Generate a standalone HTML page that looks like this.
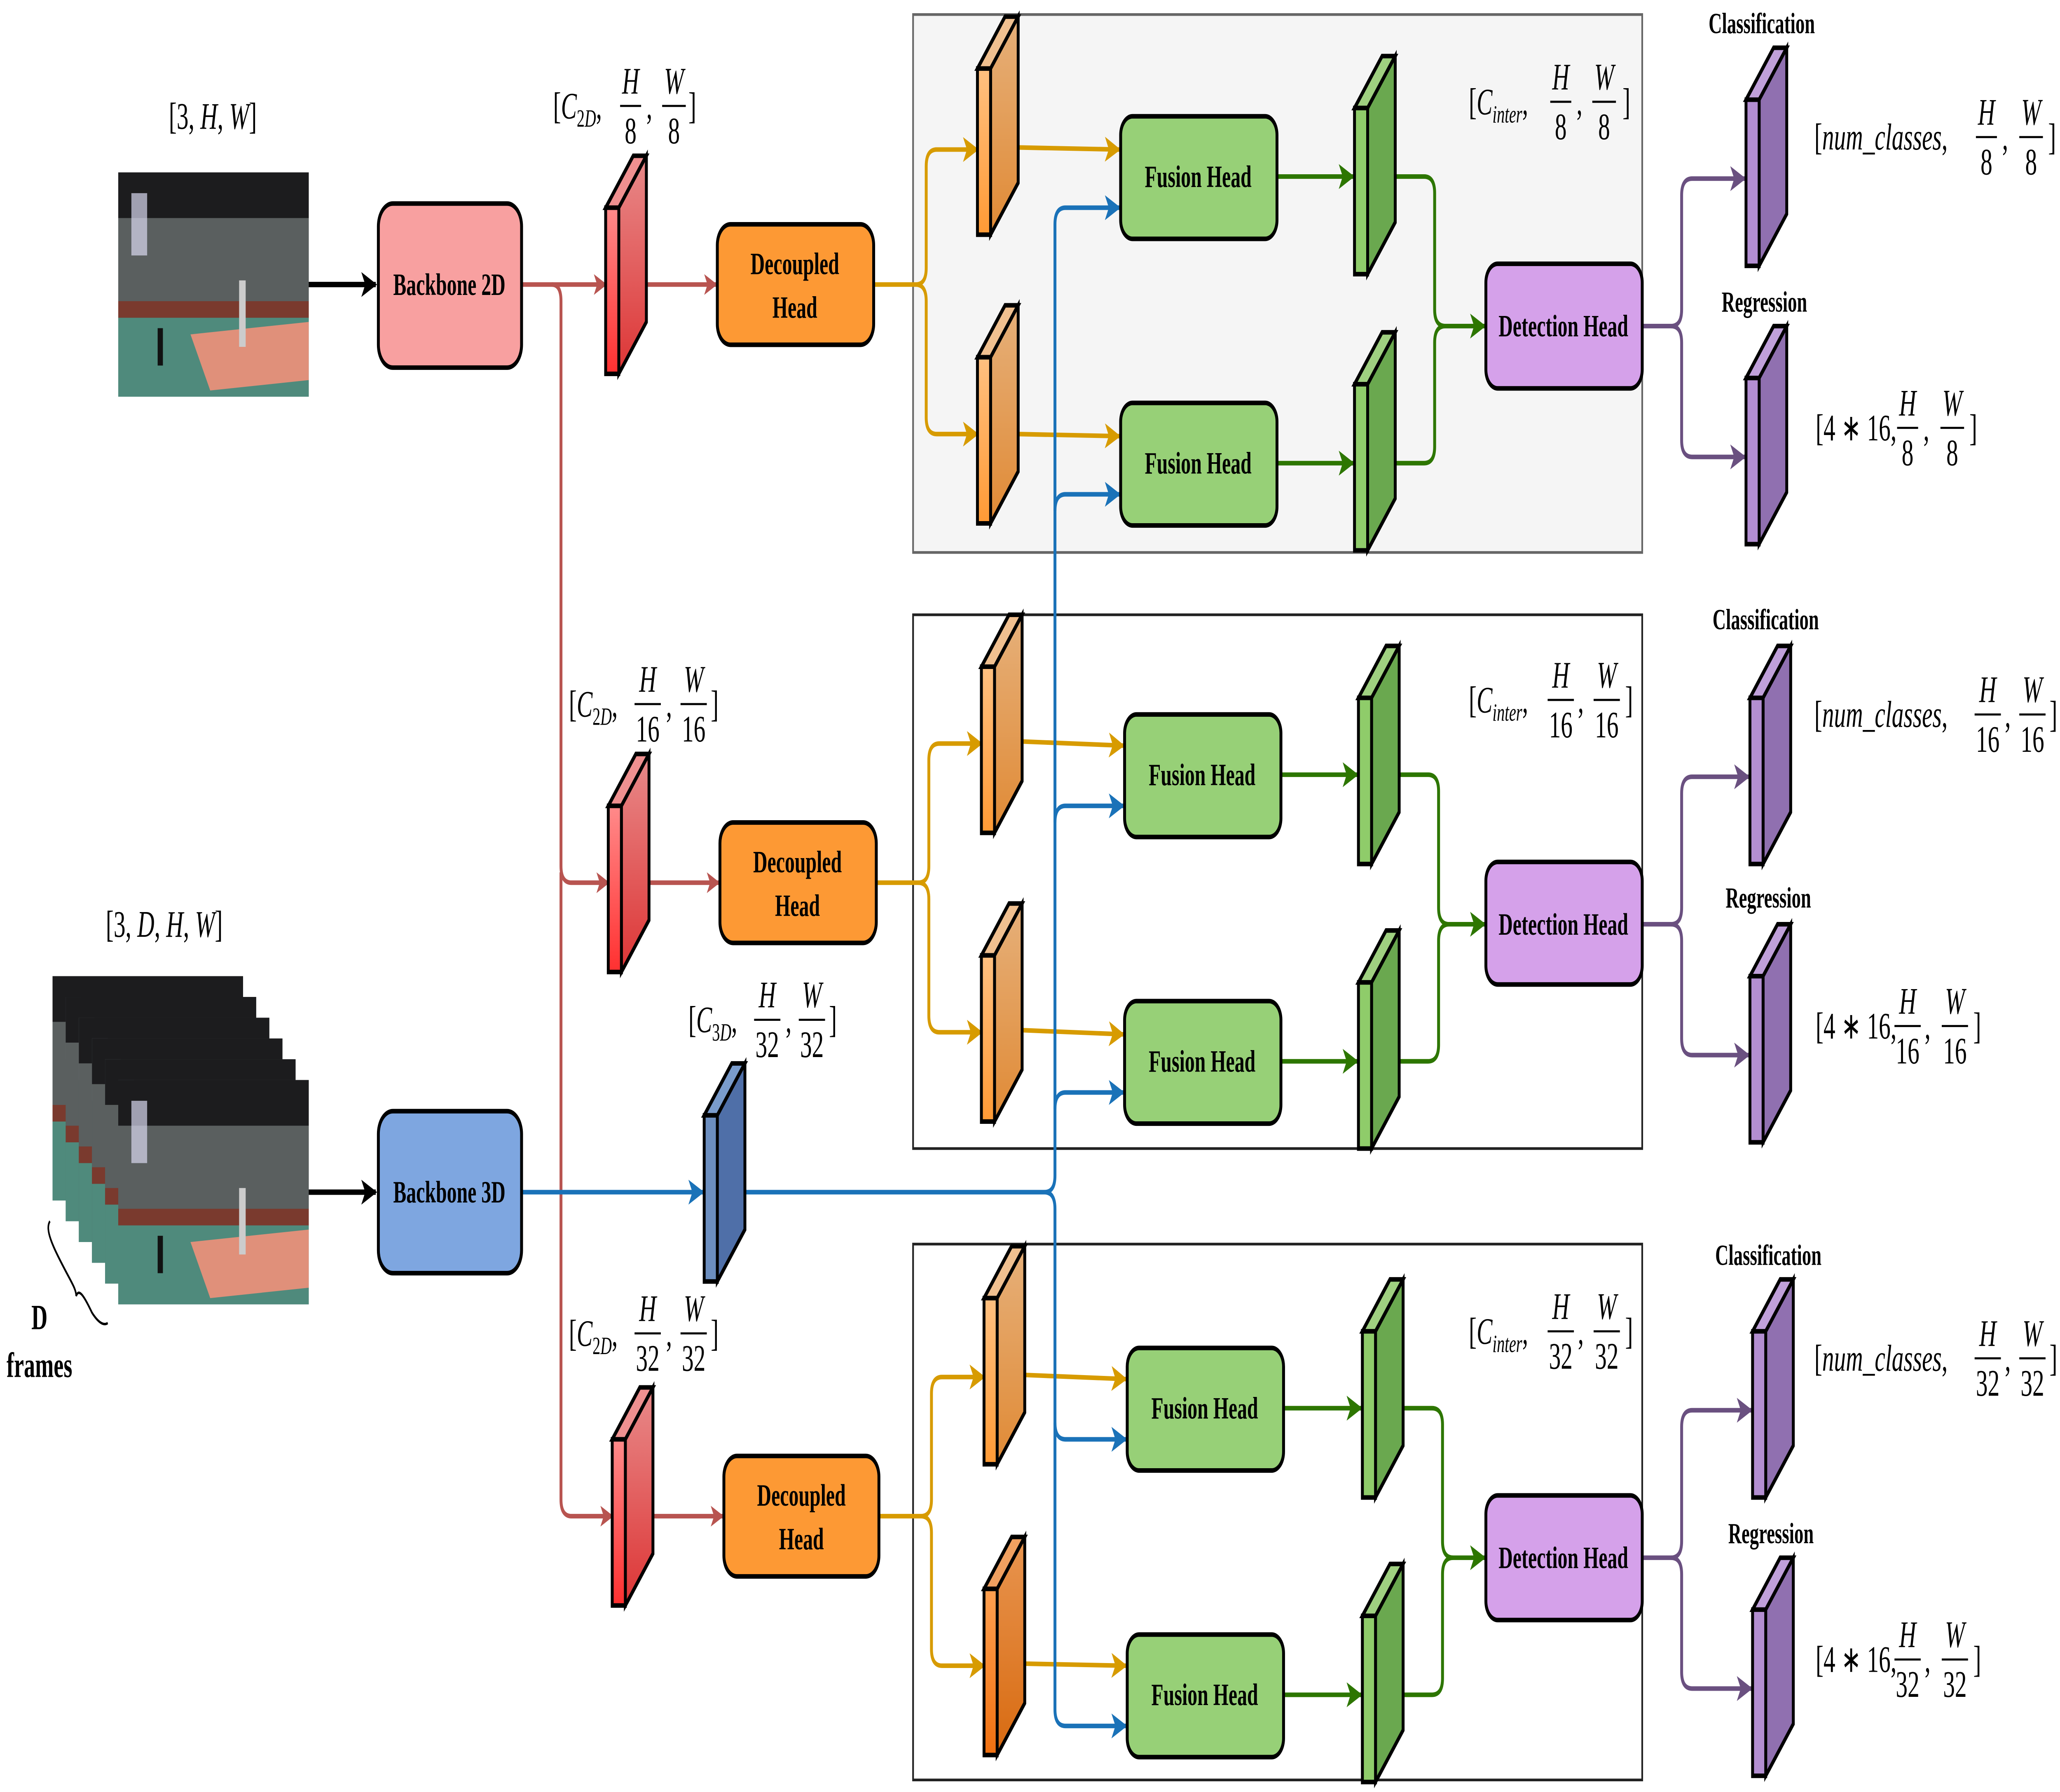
<!DOCTYPE html>
<html><head><meta charset="utf-8"><style>html,body{margin:0;padding:0;background:#fff;width:100%;height:100%;overflow:hidden}svg{display:block;width:100vw;height:100vh}</style></head><body>
<svg xmlns="http://www.w3.org/2000/svg" viewBox="0 0 1568 862.8" preserveAspectRatio="none" font-family="'Liberation Serif', serif">
<defs>
<linearGradient id="rf" x1="0" y1="0" x2="0" y2="1"><stop offset="0" stop-color="#ff8a8a"/><stop offset="1" stop-color="#ff3030"/></linearGradient>
<linearGradient id="rs" x1="0" y1="0" x2="0" y2="1"><stop offset="0" stop-color="#e88a8a"/><stop offset="1" stop-color="#dd3535"/></linearGradient>
<linearGradient id="of" x1="0" y1="0" x2="0" y2="1"><stop offset="0" stop-color="#ffc080"/><stop offset="1" stop-color="#ff9a35"/></linearGradient>
<linearGradient id="os" x1="0" y1="0" x2="0" y2="1"><stop offset="0" stop-color="#e6b07a"/><stop offset="1" stop-color="#e08a35"/></linearGradient>
<linearGradient id="df" x1="0" y1="0" x2="0" y2="1"><stop offset="0" stop-color="#ffa050"/><stop offset="1" stop-color="#f07010"/></linearGradient>
<linearGradient id="ds" x1="0" y1="0" x2="0" y2="1"><stop offset="0" stop-color="#e89550"/><stop offset="1" stop-color="#d86a10"/></linearGradient>
<symbol id="cr" overflow="visible"><g stroke="#000" stroke-width="2.2" stroke-linejoin="miter"><polygon points="0,25 21,0 31,0 10,25" fill="#ef9090"/><polygon points="10,25 31,0 31,80 10,105" fill="url(#rs)"/><rect x="0" y="25" width="10" height="80" fill="url(#rf)"/></g></symbol>
<symbol id="co" overflow="visible"><g stroke="#000" stroke-width="2.2"><polygon points="0,25 21,0 31,0 10,25" fill="#f0c090"/><polygon points="10,25 31,0 31,80 10,105" fill="url(#os)"/><rect x="0" y="25" width="10" height="80" fill="url(#of)"/></g></symbol>
<symbol id="cd" overflow="visible"><g stroke="#000" stroke-width="2.2"><polygon points="0,25 21,0 31,0 10,25" fill="#f0a060"/><polygon points="10,25 31,0 31,80 10,105" fill="url(#ds)"/><rect x="0" y="25" width="10" height="80" fill="url(#df)"/></g></symbol>
<symbol id="cg" overflow="visible"><g stroke="#000" stroke-width="2.2"><polygon points="0,25 21,0 31,0 10,25" fill="#9fd080"/><polygon points="10,25 31,0 31,80 10,105" fill="#6aa84f"/><rect x="0" y="25" width="10" height="80" fill="#8fcc6a"/></g></symbol>
<symbol id="cp" overflow="visible"><g stroke="#000" stroke-width="2.2"><polygon points="0,25 21,0 31,0 10,25" fill="#c0a0da"/><polygon points="10,25 31,0 31,80 10,105" fill="#9070b0"/><rect x="0" y="25" width="10" height="80" fill="#b38ed1"/></g></symbol>
<symbol id="cb" overflow="visible"><g stroke="#000" stroke-width="2.2"><polygon points="0,25 21,0 31,0 10,25" fill="#7a9ccc"/><polygon points="10,25 31,0 31,80 10,105" fill="#4f6fa8"/><rect x="0" y="25" width="10" height="80" fill="#6c8ebf"/></g></symbol>
<symbol id="ph" overflow="visible">
<rect x="0" y="0" width="145" height="108" fill="#4e5a58"/>
<rect x="0" y="0" width="145" height="22" fill="#1c1c1e"/>
<rect x="0" y="22" width="145" height="40" fill="#5a5f5f"/>
<rect x="0" y="62" width="145" height="8" fill="#7a3a2e"/>
<polygon points="0,70 145,70 145,108 0,108" fill="#4f8a7c"/>
<polygon points="55,78 145,72 145,100 70,105" fill="#e0907a"/>
<rect x="10" y="10" width="12" height="30" fill="#d8d8f0" opacity=".7"/>
<rect x="30" y="75" width="4" height="18" fill="#111"/>
<rect x="92" y="52" width="5" height="32" fill="#ccc"/>
</symbol>
<marker id="ar" markerWidth="10" markerHeight="10" refX="9" refY="5" orient="auto" markerUnits="userSpaceOnUse"><path d="M0,0 L10,5 L0,10 L2.5,5z" fill="#b85450"/></marker>
<marker id="ay" markerWidth="12" markerHeight="12" refX="11" refY="6" orient="auto" markerUnits="userSpaceOnUse"><path d="M0,0 L12,6 L0,12 L3,6z" fill="#d79b00"/></marker>
<marker id="ab" markerWidth="12" markerHeight="12" refX="11" refY="6" orient="auto" markerUnits="userSpaceOnUse"><path d="M0,0 L12,6 L0,12 L3,6z" fill="#1a72b8"/></marker>
<marker id="ag" markerWidth="12" markerHeight="12" refX="11" refY="6" orient="auto" markerUnits="userSpaceOnUse"><path d="M0,0 L12,6 L0,12 L3,6z" fill="#2d7600"/></marker>
<marker id="ap" markerWidth="12" markerHeight="12" refX="11" refY="6" orient="auto" markerUnits="userSpaceOnUse"><path d="M0,0 L12,6 L0,12 L3,6z" fill="#6a5080"/></marker>
<marker id="ak" markerWidth="12" markerHeight="12" refX="11" refY="6" orient="auto" markerUnits="userSpaceOnUse"><path d="M0,0 L12,6 L0,12 L3,6z" fill="#000"/></marker>
</defs>

<rect x="695" y="7" width="555" height="259" fill="#f5f5f5" stroke="#666" stroke-width="1.3"/>
<rect x="695" y="296" width="555" height="257" fill="#fff" stroke="#222" stroke-width="1.3"/>
<rect x="695" y="599" width="555" height="258" fill="#fff" stroke="#222" stroke-width="1.3"/>

<use href="#ph" x="90" y="83"/>
<use href="#ph" x="40" y="470"/><use href="#ph" x="50" y="480"/><use href="#ph" x="60" y="490"/><use href="#ph" x="70" y="500"/><use href="#ph" x="80" y="510"/><use href="#ph" x="90" y="520"/>
<path d="M38,588 C34,592 40,600 50,612 C55,618 58,621 58,624 C60,620 64,624 70,632 C76,638 80,638 82,637" fill="none" stroke="#000" stroke-width="1.2"/>
<text x="30" y="640" font-size="17" font-weight="bold" text-anchor="middle">D</text>
<text x="30" y="663" font-size="17" font-weight="bold" text-anchor="middle">frames</text>
<text x="162" y="62" font-size="18" text-anchor="middle">[3, <tspan font-style="italic">H</tspan>, <tspan font-style="italic">W</tspan>]</text>
<text x="125" y="451" font-size="18" text-anchor="middle">[3, <tspan font-style="italic">D</tspan>, <tspan font-style="italic">H</tspan>, <tspan font-style="italic">W</tspan>]</text>

<g stroke-width="2.2" fill="none">
<line x1="235" y1="137" x2="286" y2="137" stroke="#000" stroke-width="2.6" marker-end="url(#ak)"/>
<line x1="235" y1="574" x2="286" y2="574" stroke="#000" stroke-width="2.6" marker-end="url(#ak)"/>
<line x1="397" y1="137" x2="461" y2="137" stroke="#b85450" marker-end="url(#ar)"/>
<path d="M420,137 Q427,137 427,145 L427,417 Q427,425 435,425 L463,425" stroke="#b85450" marker-end="url(#ar)"/>
<path d="M427,420 L427,722 Q427,730 435,730 L466,730" stroke="#b85450" marker-end="url(#ar)"/>
<line x1="492" y1="137" x2="545" y2="137" stroke="#b85450" marker-end="url(#ar)"/>
<line x1="495" y1="425" x2="547" y2="425" stroke="#b85450" marker-end="url(#ar)"/>
<line x1="497" y1="730" x2="550" y2="730" stroke="#b85450" marker-end="url(#ar)"/>
<path d="M665,137 L697,137 Q705,137 705,129 L705,80 Q705,72 713,72 L744,72" stroke="#d79b00" marker-end="url(#ay)"/>
<path d="M697,137 Q705,137 705,145 L705,201 Q705,209 713,209 L744,209" stroke="#d79b00" marker-end="url(#ay)"/>
<path d="M667,425 L699,425 Q707,425 707,417 L707,366 Q707,358 715,358 L747,358" stroke="#d79b00" marker-end="url(#ay)"/>
<path d="M699,425 Q707,425 707,433 L707,489 Q707,497 715,497 L747,497" stroke="#d79b00" marker-end="url(#ay)"/>
<path d="M669,730 L701,730 Q709,730 709,722 L709,671 Q709,663 717,663 L749,663" stroke="#d79b00" marker-end="url(#ay)"/>
<path d="M701,730 Q709,730 709,738 L709,794 Q709,802 717,802 L749,802" stroke="#d79b00" marker-end="url(#ay)"/>
<line x1="775" y1="71" x2="852" y2="72" stroke="#d79b00" marker-end="url(#ay)"/>
<line x1="775" y1="209" x2="852" y2="210" stroke="#d79b00" marker-end="url(#ay)"/>
<line x1="778" y1="357" x2="855" y2="359" stroke="#d79b00" marker-end="url(#ay)"/>
<line x1="778" y1="496" x2="855" y2="498" stroke="#d79b00" marker-end="url(#ay)"/>
<line x1="780" y1="662" x2="857" y2="664" stroke="#d79b00" marker-end="url(#ay)"/>
<line x1="780" y1="801" x2="857" y2="802" stroke="#d79b00" marker-end="url(#ay)"/>
<line x1="397" y1="574" x2="535" y2="574" stroke="#1a72b8" marker-end="url(#ab)"/>
<path d="M567,574 L795,574 Q803,574 803,566 L803,108 Q803,100 811,100 L852,100" stroke="#1a72b8" marker-end="url(#ab)"/>
<path d="M803,246 Q803,238 811,238 L852,238" stroke="#1a72b8" marker-end="url(#ab)"/>
<path d="M803,396 Q803,388 811,388 L855,388" stroke="#1a72b8" marker-end="url(#ab)"/>
<path d="M803,534 Q803,526 811,526 L855,526" stroke="#1a72b8" marker-end="url(#ab)"/>
<path d="M795,574 Q803,574 803,582 L803,685 Q803,693 811,693 L857,693" stroke="#1a72b8" marker-end="url(#ab)"/>
<path d="M803,685 L803,823 Q803,831 811,831 L857,831" stroke="#1a72b8" marker-end="url(#ab)"/>
<line x1="972" y1="85" x2="1030" y2="85" stroke="#2d7600" marker-end="url(#ag)"/>
<line x1="972" y1="223" x2="1030" y2="223" stroke="#2d7600" marker-end="url(#ag)"/>
<line x1="975" y1="373" x2="1033" y2="373" stroke="#2d7600" marker-end="url(#ag)"/>
<line x1="975" y1="511" x2="1033" y2="511" stroke="#2d7600" marker-end="url(#ag)"/>
<line x1="977" y1="678" x2="1036" y2="678" stroke="#2d7600" marker-end="url(#ag)"/>
<line x1="977" y1="816" x2="1036" y2="816" stroke="#2d7600" marker-end="url(#ag)"/>
<path d="M1062,85 L1084,85 Q1092,85 1092,93 L1092,149 Q1092,157 1100,157 L1130,157" stroke="#2d7600" marker-end="url(#ag)"/>
<path d="M1062,223 L1084,223 Q1092,223 1092,215 L1092,165 Q1092,157 1100,157" stroke="#2d7600"/>
<path d="M1065,373 L1087,373 Q1095,373 1095,381 L1095,437 Q1095,445 1103,445 L1130,445" stroke="#2d7600" marker-end="url(#ag)"/>
<path d="M1065,511 L1087,511 Q1095,511 1095,503 L1095,453 Q1095,445 1103,445" stroke="#2d7600"/>
<path d="M1068,678 L1090,678 Q1098,678 1098,686 L1098,742 Q1098,750 1106,750 L1130,750" stroke="#2d7600" marker-end="url(#ag)"/>
<path d="M1068,816 L1090,816 Q1098,816 1098,808 L1098,758 Q1098,750 1106,750" stroke="#2d7600"/>
<path d="M1250,157 L1272,157 Q1280,157 1280,149 L1280,94 Q1280,86 1288,86 L1328,86" stroke="#6a5080" marker-end="url(#ap)"/>
<path d="M1272,157 Q1280,157 1280,165 L1280,212 Q1280,220 1288,220 L1328,220" stroke="#6a5080" marker-end="url(#ap)"/>
<path d="M1250,445 L1272,445 Q1280,445 1280,437 L1280,382 Q1280,374 1288,374 L1331,374" stroke="#6a5080" marker-end="url(#ap)"/>
<path d="M1272,445 Q1280,445 1280,453 L1280,500 Q1280,508 1288,508 L1331,508" stroke="#6a5080" marker-end="url(#ap)"/>
<path d="M1250,750 L1272,750 Q1280,750 1280,742 L1280,687 Q1280,679 1288,679 L1333,679" stroke="#6a5080" marker-end="url(#ap)"/>
<path d="M1272,750 Q1280,750 1280,758 L1280,805 Q1280,813 1288,813 L1333,813" stroke="#6a5080" marker-end="url(#ap)"/>
</g>

<g stroke="#000" stroke-width="2.2">
<rect x="288" y="98" width="109" height="79" rx="11" fill="#f8a0a0"/>
<rect x="288" y="535" width="109" height="78" rx="11" fill="#7ea6e0"/>
<rect x="546" y="108" width="119" height="58" rx="10" fill="#fd9934"/>
<rect x="548" y="396" width="119" height="58" rx="10" fill="#fd9934"/>
<rect x="551" y="701" width="118" height="58" rx="10" fill="#fd9934"/>
<rect x="853" y="56" width="119" height="59" rx="9" fill="#97d077"/>
<rect x="853" y="194" width="119" height="59" rx="9" fill="#97d077"/>
<rect x="856" y="344" width="119" height="59" rx="9" fill="#97d077"/>
<rect x="856" y="482" width="119" height="59" rx="9" fill="#97d077"/>
<rect x="858" y="649" width="119" height="59" rx="9" fill="#97d077"/>
<rect x="858" y="787" width="119" height="59" rx="9" fill="#97d077"/>
<rect x="1131" y="127" width="119" height="60" rx="9" fill="#d5a1ea"/>
<rect x="1131" y="415" width="119" height="59" rx="9" fill="#d5a1ea"/>
<rect x="1131" y="720" width="119" height="60" rx="9" fill="#d5a1ea"/>
</g>
<g font-weight="bold" font-size="15" text-anchor="middle">
<text x="342" y="142">Backbone 2D</text>
<text x="342" y="579">Backbone 3D</text>
<text x="605" y="132">Decoupled</text><text x="605" y="153">Head</text>
<text x="607" y="420">Decoupled</text><text x="607" y="441">Head</text>
<text x="610" y="725">Decoupled</text><text x="610" y="746">Head</text>
<text x="912" y="90">Fusion Head</text><text x="912" y="228">Fusion Head</text>
<text x="915" y="378">Fusion Head</text><text x="915" y="516">Fusion Head</text>
<text x="917" y="683">Fusion Head</text><text x="917" y="821">Fusion Head</text>
<text x="1190" y="162">Detection Head</text><text x="1190" y="450">Detection Head</text><text x="1190" y="755">Detection Head</text>
<text x="1341" y="16" font-size="14">Classification</text><text x="1343" y="150" font-size="14">Regression</text>
<text x="1344" y="303" font-size="14">Classification</text><text x="1346" y="437" font-size="14">Regression</text>
<text x="1346" y="609" font-size="14">Classification</text><text x="1348" y="743" font-size="14">Regression</text>
</g>

<use href="#cr" x="461" y="75"/><use href="#cr" x="463" y="363"/><use href="#cr" x="466" y="668"/>
<use href="#cb" x="536" y="512"/>
<use href="#co" x="744" y="8"/><use href="#co" x="744" y="147"/>
<use href="#co" x="747" y="296"/><use href="#co" x="747" y="435"/>
<use href="#co" x="749" y="600"/><use href="#cd" x="749" y="740"/>
<use href="#cg" x="1031" y="27"/><use href="#cg" x="1031" y="160"/>
<use href="#cg" x="1034" y="311"/><use href="#cg" x="1034" y="448"/>
<use href="#cg" x="1037" y="616"/><use href="#cg" x="1037" y="753"/>
<use href="#cp" x="1329" y="23"/><use href="#cp" x="1329" y="157"/>
<use href="#cp" x="1332" y="311"/><use href="#cp" x="1332" y="445"/>
<use href="#cp" x="1334" y="616"/><use href="#cp" x="1334" y="750"/>

<g font-size="18" stroke="none">
<g transform="translate(421,0)">
<text x="0" y="57">[<tspan font-style="italic">C</tspan><tspan font-size="12" dy="4">2<tspan font-style="italic">D</tspan></tspan><tspan dy="-4">,</tspan></text>
<text x="59" y="45" font-style="italic" text-anchor="middle">H</text><line x1="51" x2="67" y1="51" y2="51" stroke="#000"/><text x="59" y="69" text-anchor="middle">8</text>
<text x="71" y="57">,</text>
<text x="92" y="45" font-style="italic" text-anchor="middle">W</text><line x1="83" x2="101" y1="51" y2="51" stroke="#000"/><text x="92" y="69" text-anchor="middle">8</text>
<text x="103" y="57">]</text></g>
<g transform="translate(433,288)">
<text x="0" y="57">[<tspan font-style="italic">C</tspan><tspan font-size="12" dy="4">2<tspan font-style="italic">D</tspan></tspan><tspan dy="-4">,</tspan></text>
<text x="60" y="45" font-style="italic" text-anchor="middle">H</text><line x1="50" x2="70" y1="51" y2="51" stroke="#000"/><text x="60" y="69" text-anchor="middle">16</text>
<text x="74" y="57">,</text>
<text x="95" y="45" font-style="italic" text-anchor="middle">W</text><line x1="85" x2="105" y1="51" y2="51" stroke="#000"/><text x="95" y="69" text-anchor="middle">16</text>
<text x="108" y="57">]</text></g>
<g transform="translate(433,591)">
<text x="0" y="57">[<tspan font-style="italic">C</tspan><tspan font-size="12" dy="4">2<tspan font-style="italic">D</tspan></tspan><tspan dy="-4">,</tspan></text>
<text x="60" y="45" font-style="italic" text-anchor="middle">H</text><line x1="50" x2="70" y1="51" y2="51" stroke="#000"/><text x="60" y="69" text-anchor="middle">32</text>
<text x="74" y="57">,</text>
<text x="95" y="45" font-style="italic" text-anchor="middle">W</text><line x1="85" x2="105" y1="51" y2="51" stroke="#000"/><text x="95" y="69" text-anchor="middle">32</text>
<text x="108" y="57">]</text></g>
<g transform="translate(524,440)">
<text x="0" y="57">[<tspan font-style="italic">C</tspan><tspan font-size="12" dy="4">3<tspan font-style="italic">D</tspan></tspan><tspan dy="-4">,</tspan></text>
<text x="60" y="45" font-style="italic" text-anchor="middle">H</text><line x1="50" x2="70" y1="51" y2="51" stroke="#000"/><text x="60" y="69" text-anchor="middle">32</text>
<text x="74" y="57">,</text>
<text x="94" y="45" font-style="italic" text-anchor="middle">W</text><line x1="84" x2="104" y1="51" y2="51" stroke="#000"/><text x="94" y="69" text-anchor="middle">32</text>
<text x="107" y="57">]</text></g>
<g transform="translate(1118,-2)">
<text x="0" y="57">[<tspan font-style="italic">C</tspan><tspan font-size="12" font-style="italic" dy="4">inter</tspan><tspan dy="-4">,</tspan></text>
<text x="70" y="45" font-style="italic" text-anchor="middle">H</text><line x1="62" x2="78" y1="51" y2="51" stroke="#000"/><text x="70" y="69" text-anchor="middle">8</text>
<text x="82" y="57">,</text>
<text x="103" y="45" font-style="italic" text-anchor="middle">W</text><line x1="94" x2="112" y1="51" y2="51" stroke="#000"/><text x="103" y="69" text-anchor="middle">8</text>
<text x="117" y="57">]</text></g>
<g transform="translate(1118,286)">
<text x="0" y="57">[<tspan font-style="italic">C</tspan><tspan font-size="12" font-style="italic" dy="4">inter</tspan><tspan dy="-4">,</tspan></text>
<text x="70" y="45" font-style="italic" text-anchor="middle">H</text><line x1="60" x2="80" y1="51" y2="51" stroke="#000"/><text x="70" y="69" text-anchor="middle">16</text>
<text x="83" y="57">,</text>
<text x="105" y="45" font-style="italic" text-anchor="middle">W</text><line x1="95" x2="115" y1="51" y2="51" stroke="#000"/><text x="105" y="69" text-anchor="middle">16</text>
<text x="119" y="57">]</text></g>
<g transform="translate(1118,590)">
<text x="0" y="57">[<tspan font-style="italic">C</tspan><tspan font-size="12" font-style="italic" dy="4">inter</tspan><tspan dy="-4">,</tspan></text>
<text x="70" y="45" font-style="italic" text-anchor="middle">H</text><line x1="60" x2="80" y1="51" y2="51" stroke="#000"/><text x="70" y="69" text-anchor="middle">32</text>
<text x="83" y="57">,</text>
<text x="105" y="45" font-style="italic" text-anchor="middle">W</text><line x1="95" x2="115" y1="51" y2="51" stroke="#000"/><text x="105" y="69" text-anchor="middle">32</text>
<text x="119" y="57">]</text></g>
<g transform="translate(1381,15)">
<text x="0" y="57">[<tspan font-style="italic">num_classes</tspan>,</text>
<text x="131" y="45" font-style="italic" text-anchor="middle">H</text><line x1="123" x2="139" y1="51" y2="51" stroke="#000"/><text x="131" y="69" text-anchor="middle">8</text>
<text x="143" y="57">,</text>
<text x="165" y="45" font-style="italic" text-anchor="middle">W</text><line x1="156" x2="174" y1="51" y2="51" stroke="#000"/><text x="165" y="69" text-anchor="middle">8</text>
<text x="178" y="57">]</text></g>
<g transform="translate(1381,293)">
<text x="0" y="57">[<tspan font-style="italic">num_classes</tspan>,</text>
<text x="132" y="45" font-style="italic" text-anchor="middle">H</text><line x1="122" x2="142" y1="51" y2="51" stroke="#000"/><text x="132" y="69" text-anchor="middle">16</text>
<text x="145" y="57">,</text>
<text x="166" y="45" font-style="italic" text-anchor="middle">W</text><line x1="156" x2="176" y1="51" y2="51" stroke="#000"/><text x="166" y="69" text-anchor="middle">16</text>
<text x="179" y="57">]</text></g>
<g transform="translate(1381,603)">
<text x="0" y="57">[<tspan font-style="italic">num_classes</tspan>,</text>
<text x="132" y="45" font-style="italic" text-anchor="middle">H</text><line x1="122" x2="142" y1="51" y2="51" stroke="#000"/><text x="132" y="69" text-anchor="middle">32</text>
<text x="145" y="57">,</text>
<text x="166" y="45" font-style="italic" text-anchor="middle">W</text><line x1="156" x2="176" y1="51" y2="51" stroke="#000"/><text x="166" y="69" text-anchor="middle">32</text>
<text x="179" y="57">]</text></g>
<g transform="translate(1382,155)">
<text x="0" y="57">[4 ∗ 16,</text>
<text x="70" y="45" font-style="italic" text-anchor="middle">H</text><line x1="62" x2="78" y1="51" y2="51" stroke="#000"/><text x="70" y="69" text-anchor="middle">8</text>
<text x="82" y="57">,</text>
<text x="104" y="45" font-style="italic" text-anchor="middle">W</text><line x1="95" x2="113" y1="51" y2="51" stroke="#000"/><text x="104" y="69" text-anchor="middle">8</text>
<text x="117" y="57">]</text></g>
<g transform="translate(1382,443)">
<text x="0" y="57">[4 ∗ 16,</text>
<text x="70" y="45" font-style="italic" text-anchor="middle">H</text><line x1="60" x2="80" y1="51" y2="51" stroke="#000"/><text x="70" y="69" text-anchor="middle">16</text>
<text x="83" y="57">,</text>
<text x="106" y="45" font-style="italic" text-anchor="middle">W</text><line x1="96" x2="116" y1="51" y2="51" stroke="#000"/><text x="106" y="69" text-anchor="middle">16</text>
<text x="120" y="57">]</text></g>
<g transform="translate(1382,748)">
<text x="0" y="57">[4 ∗ 16,</text>
<text x="70" y="45" font-style="italic" text-anchor="middle">H</text><line x1="60" x2="80" y1="51" y2="51" stroke="#000"/><text x="70" y="69" text-anchor="middle">32</text>
<text x="83" y="57">,</text>
<text x="106" y="45" font-style="italic" text-anchor="middle">W</text><line x1="96" x2="116" y1="51" y2="51" stroke="#000"/><text x="106" y="69" text-anchor="middle">32</text>
<text x="120" y="57">]</text></g>
</g>
</svg>
</body></html>
